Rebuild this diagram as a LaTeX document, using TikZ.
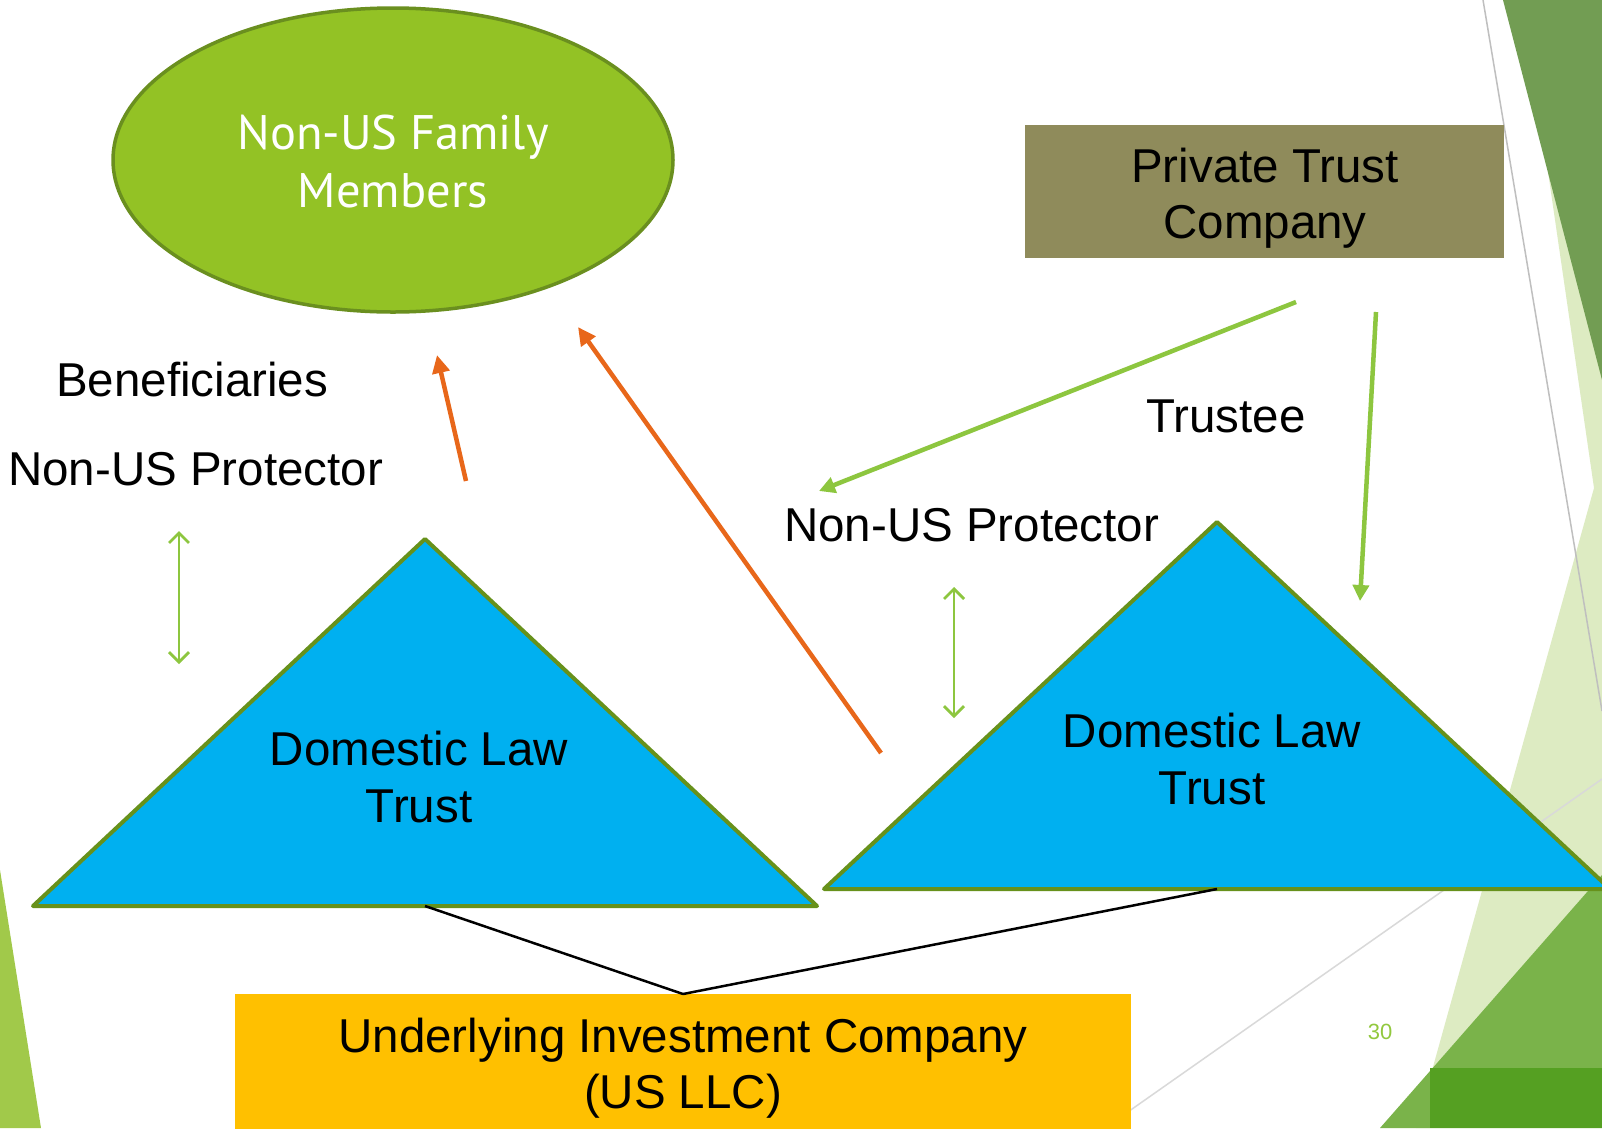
\documentclass[tikz,border=0pt]{standalone}
\usepackage{fontspec}
\setmainfont{Liberation Sans}
\newfontfamily\elfont{PT Sans}
\usetikzlibrary{arrows.meta,shapes.geometric}
\definecolor{skyb}{HTML}{00B0F0}
\definecolor{olivedge}{HTML}{67911B}
\definecolor{famgreen}{HTML}{93C225}
\definecolor{famedge}{HTML}{6A8F1F}
\definecolor{ptcfill}{HTML}{8F8B5B}
\definecolor{uicfill}{HTML}{FFC000}
\definecolor{arrorange}{HTML}{E8671A}
\definecolor{arrgreen}{HTML}{8DC63F}
\definecolor{darkdeco}{HTML}{729D53}
\definecolor{paledeco}{HTML}{DDEBC2}
\definecolor{meddeco}{HTML}{7AB34A}
\definecolor{deepdeco}{HTML}{55A022}
\definecolor{leftdeco}{HTML}{A1C94A}
\definecolor{numgreen}{HTML}{92C83E}
\tikzset{
  bigtext/.style={font=\fontsize{47.5}{56.5}\selectfont, text=black, align=center, inner sep=0pt},
  tri/.style={fill=skyb, draw=olivedge, line width=4pt, line join=round},
  orangearrow/.style={draw=arrorange, line width=4.5pt, -{Triangle[length=18pt,width=17pt]}},
  greenarrow/.style={draw=arrgreen, line width=4.5pt, -{Triangle[length=16pt,width=16pt]}},
  dblarrow/.style={draw=arrgreen, line width=2.8pt, {Straight Barb[length=10pt,width=20pt]}-{Straight Barb[length=10pt,width=20pt]}},
  tieline/.style={draw=black, line width=2.5pt},
}
\begin{document}
\begin{tikzpicture}[x=1pt,y=-1pt]
\useasboundingbox (0,0) rectangle (1602,1128);
\fill[white] (0,0) rectangle (1602,1128);
% background decorations
\fill[paledeco] (1523,0) -- (1602,0) -- (1602,1128) -- (1416,1128) -- (1594,488) -- cycle;
\fill[darkdeco] (1503,0) -- (1602,0) -- (1602,380) -- cycle;
\draw[color=black!25, line width=1.5pt] (1483,0) -- (1602,711);
\draw[color=black!15, line width=1.5pt] (1602,779) -- (1105,1128);
\fill[meddeco] (1602,875) -- (1602,1128) -- (1380,1128) -- cycle;
\fill[deepdeco] (1430,1068) rectangle (1602,1128);
\fill[leftdeco] (0,870) -- (41,1128) -- (0,1128) -- cycle;
% ellipse
\node[ellipse, fill=famgreen, draw=famedge, line width=3.5pt, minimum width=560pt, minimum height=304pt] (fam) at (393,160) {};
\node[font=\elfont\fontsize{48.5}{58}\selectfont, text=white, align=center, inner sep=0pt] (famtext) at (393,162) {Non-US Family\\Members};
% private trust company
\node[fill=ptcfill, minimum width=479pt, minimum height=133pt, inner sep=0pt] (ptc) at (1264.5,191.5) {};
\node[bigtext] (ptctext) at (1265,198) {Private Trust\\Company};
% underlying investment company
\node[fill=uicfill, minimum width=896pt, minimum height=140pt, inner sep=0pt, anchor=north] (uic) at (683,994) {};
\node[bigtext] (uictext) at (683,1068) {Underlying Investment Company\\(US LLC)};
% triangles
\coordinate (lta) at (425,539);
\coordinate (ltl) at (33,906);
\coordinate (ltr) at (817,906);
\coordinate (ltb) at (425,906);
\coordinate (rta) at (1217,522);
\coordinate (rtl) at (824,889);
\coordinate (rtr) at (1610,889);
\coordinate (rtb) at (1217,889);
\draw[tri] (lta) -- (ltl) -- (ltr) -- cycle;
\draw[tri] (rta) -- (rtl) -- (rtr) -- cycle;
\node[bigtext] (lttext) at (419,777) {Domestic Law\\Trust};
\node[bigtext] (rttext) at (1212,759) {Domestic Law\\Trust};
% tie lines
\draw[tieline] (ltb) -- (uic.north);
\draw[tieline] (rtb) -- (uic.north);
% labels
\node[bigtext, anchor=west] (benef) at (56,380) {Beneficiaries};
\node[bigtext, anchor=west] (protl) at (8,469) {Non-US Protector};
\node[bigtext, anchor=west] (trustee) at (1146,416) {Trustee};
\node[bigtext, anchor=west] (protr) at (784,525) {Non-US Protector};
\node[font=\fontsize{22}{26}\selectfont, text=numgreen, inner sep=0pt] (pnum) at (1380,1032) {30};
% arrows
\coordinate (o1s) at (466,481);
\coordinate (o1e) at (437,355);
\coordinate (o2s) at (881,753);
\coordinate (o2e) at (578,327);
\draw[orangearrow] (o1s) -- (o1e);
\draw[orangearrow] (o2s) -- (o2e);
\coordinate (g1s) at (1296,302);
\coordinate (g1e) at (819,491);
\coordinate (g2s) at (1376,312);
\coordinate (g2e) at (1360,601);
\draw[greenarrow] (g1s) -- (g1e);
\draw[greenarrow] (g2s) -- (g2e);
\coordinate (d1a) at (179,531);
\coordinate (d1b) at (179,664);
\coordinate (d2a) at (954,587);
\coordinate (d2b) at (954,718);
\draw[dblarrow] (d1a) -- (d1b);
\draw[dblarrow] (d2a) -- (d2b);
\end{tikzpicture}
\end{document}
